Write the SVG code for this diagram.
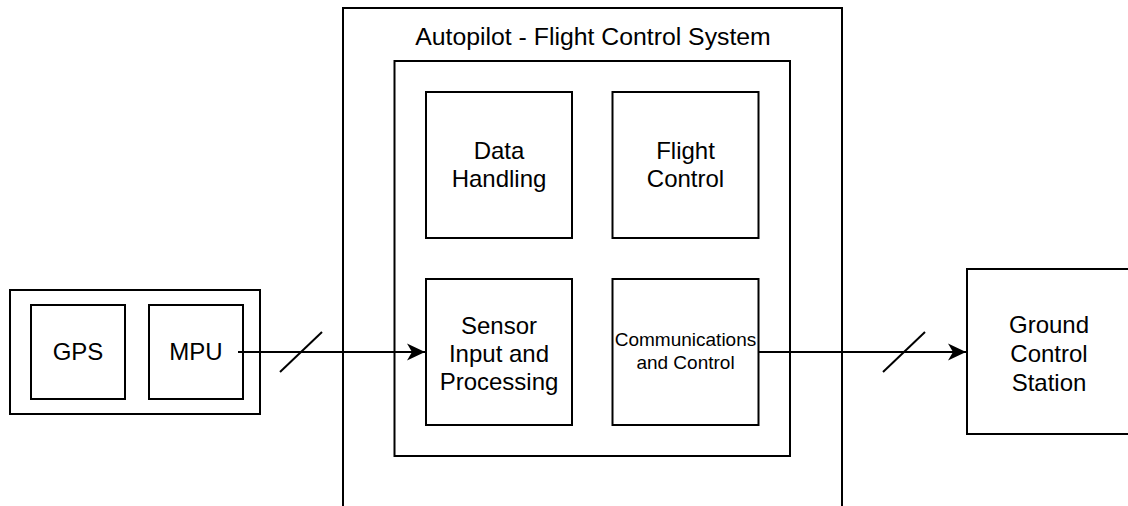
<svg xmlns="http://www.w3.org/2000/svg" width="1128" height="506" viewBox="0 0 1128 506">
  <style>
    .box { fill: #ffffff; stroke: #000000; stroke-width: 2; }
    .lbl { font-family: "Liberation Sans", Arial, Helvetica, sans-serif; font-size: 24px; fill: #000000; text-anchor: middle; }
    .title { font-size: 24.8px; }
    .small { font-size: 19px; }
    .wire { fill: none; stroke: #000000; stroke-width: 2; }
  </style>
  <defs>
    <marker id="arrow" markerUnits="userSpaceOnUse" markerWidth="20" markerHeight="20" viewBox="-19 -10 20 20" refX="0" refY="0" orient="auto">
      <path d="M0,0 L-18,-8.5 L-13,0 L-18,8.5 Z" fill="#000000"/>
    </marker>
  </defs>

  <!-- sensor package -->
  <g id="sensor-package">
    <rect class="box" x="10" y="290" width="250" height="124"/>
  </g>
  <g id="gps">
    <rect class="box" x="31" y="305" width="94" height="94"/>
    <text class="lbl" x="78" y="360">GPS</text>
  </g>
  <g id="mpu">
    <rect class="box" x="149" y="305" width="94" height="94"/>
    <text class="lbl" x="196" y="360">MPU</text>
  </g>

  <!-- autopilot -->
  <g id="autopilot">
    <rect class="box" x="343" y="8" width="499" height="510"/>
    <text class="lbl title" x="593" y="45">Autopilot - Flight Control System</text>
  </g>
  <g id="autopilot-core">
    <rect class="box" x="394.5" y="61" width="395.5" height="395"/>
  </g>
  <g id="data-handling">
    <rect class="box" x="426" y="92" width="146" height="146"/>
    <text class="lbl" x="499" y="159">Data</text>
    <text class="lbl" x="499" y="187">Handling</text>
  </g>
  <g id="flight-control">
    <rect class="box" x="612.5" y="92" width="146" height="146"/>
    <text class="lbl" x="685.5" y="159">Flight</text>
    <text class="lbl" x="685.5" y="187">Control</text>
  </g>
  <g id="sensor-input">
    <rect class="box" x="426" y="279" width="146" height="146"/>
    <text class="lbl" x="499" y="334">Sensor</text>
    <text class="lbl" x="499" y="362">Input and</text>
    <text class="lbl" x="499" y="390">Processing</text>
  </g>
  <g id="communications">
    <rect class="box" x="612.5" y="279" width="146" height="146"/>
    <text class="lbl small" x="685.5" y="346">Communications</text>
    <text class="lbl small" x="685.5" y="369">and Control</text>
  </g>

  <!-- ground station -->
  <g id="ground-station">
    <rect class="box" x="967" y="269" width="164" height="165"/>
    <text class="lbl" x="1049" y="333">Ground</text>
    <text class="lbl" x="1049" y="362">Control</text>
    <text class="lbl" x="1049" y="391">Station</text>
  </g>

  <!-- bus connectors with slash marks -->
  <g id="connectors">
    <line class="wire" x1="238" y1="352" x2="425" y2="352" marker-end="url(#arrow)"/>
    <line class="wire" x1="280" y1="372" x2="322" y2="332"/>
    <line class="wire" x1="759" y1="352" x2="966" y2="352" marker-end="url(#arrow)"/>
    <line class="wire" x1="883" y1="372" x2="925" y2="332"/>
  </g>
</svg>
